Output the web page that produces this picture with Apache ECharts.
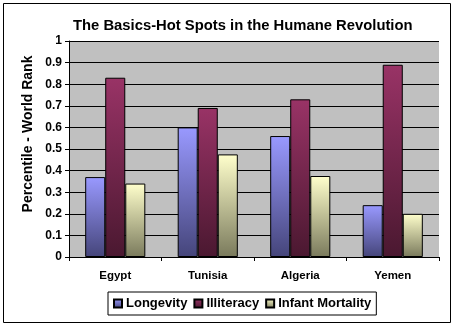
<!DOCTYPE html>
<html>
<head>
<meta charset="utf-8">
<script src="https://cdn.jsdelivr.net/npm/echarts@6/dist/echarts.min.js"></script>
<style>
html,body{margin:0;padding:0;background:#fff;}
#chart{width:455px;height:327px;}
</style>
</head>
<body>
<div id="chart"></div>
<script>
const categories = ['Egypt', 'Tunisia', 'Algeria', 'Yemen'];
const longevity = [0.37, 0.60, 0.56, 0.24];
const illiteracy = [0.83, 0.69, 0.73, 0.89];
const infantMortality = [0.34, 0.475, 0.375, 0.20];
const yTicks = [0, 0.1, 0.2, 0.3, 0.4, 0.5, 0.6, 0.7, 0.8, 0.9, 1];

const FONT = '"Liberation Sans", Arial, sans-serif';
function grad(top, bottom) {
  return new echarts.graphic.LinearGradient(0, 0, 0, 1, [
    { offset: 0, color: top }, { offset: 1, color: bottom }
  ]);
}
const chart = echarts.init(document.getElementById('chart'), null, { renderer: 'canvas' });
function mk(name, data, top, bottom) {
  return {
    name: name, type: 'bar', data: data,
    barGap: '0%', barCategoryGap: '35%',
    itemStyle: { color: grad(top, bottom), borderColor: '#000', borderWidth: 1 },
    emphasis: { disabled: true }
  };
}
chart.setOption({
  animation: false,
  backgroundColor: '#fff',
  title: {
    text: 'The Basics-Hot Spots in the Humane Revolution',
    left: 68, top: 13,
    textStyle: { fontFamily: FONT, fontSize: 14.8, fontWeight: 'bold', color: '#000' }
  },
  graphic: [{
    type: 'rect', shape: { x: 3.5, y: 3.5, width: 447, height: 319 },
    style: { fill: 'none', stroke: '#000', lineWidth: 1 }, silent: true
  }, {
    type: 'text', x: 28, y: 134, rotation: Math.PI / 2, silent: true,
    style: {
      text: 'Percentile - World Rank', fill: '#000',
      font: 'bold 14px "Liberation Sans", Arial, sans-serif',
      align: 'center', verticalAlign: 'middle'
    }
  }],
  legend: {
    top: 292, left: 108,
    itemWidth: 8, itemHeight: 8, itemGap: 6,
    padding: [5, 5, 5, 5],
    borderColor: '#000', borderWidth: 1,
    textStyle: { fontFamily: FONT, fontSize: 13, fontWeight: 'bold', color: '#000', padding: [0, 0, 0, -1] },
    icon: 'rect',
    data: ['Longevity', 'Illiteracy', 'Infant Mortality']
  },
  grid: { left: 69, right: 16, top: 41, bottom: 70, backgroundColor: '#c0c0c0', show: true, borderWidth: 0 },
  xAxis: {
    type: 'category', data: categories,
    axisLine: { lineStyle: { color: '#000', width: 1 } },
    axisTick: { show: true, length: 4, lineStyle: { color: '#000' } },
    axisLabel: { fontFamily: FONT, fontSize: 11.5, fontWeight: 'bold', color: '#000', margin: 13 }
  },
  yAxis: {
    type: 'value', min: 0, max: 1, interval: 0.1,
    axisLine: { show: true, lineStyle: { color: '#000', width: 1 } },
    axisTick: { show: true, length: 4, lineStyle: { color: '#000' } },
    axisLabel: {
      fontFamily: FONT, fontSize: 12, fontWeight: 'bold', color: '#000', margin: 7,
      formatter: function (v) {
        const t = yTicks.find(function (x) { return Math.abs(x - v) < 1e-6; });
        return t === undefined ? '' : String(t);
      }
    },
    splitLine: { show: true, lineStyle: { color: '#000', width: 1 } }
  },
  series: [
    mk('Longevity', longevity, '#9999ff', '#45457a'),
    mk('Illiteracy', illiteracy, '#993366', '#4a1830'),
    mk('Infant Mortality', infantMortality, '#ffffcc', '#7a7a5c')
  ]
});
</script>
</body>
</html>
